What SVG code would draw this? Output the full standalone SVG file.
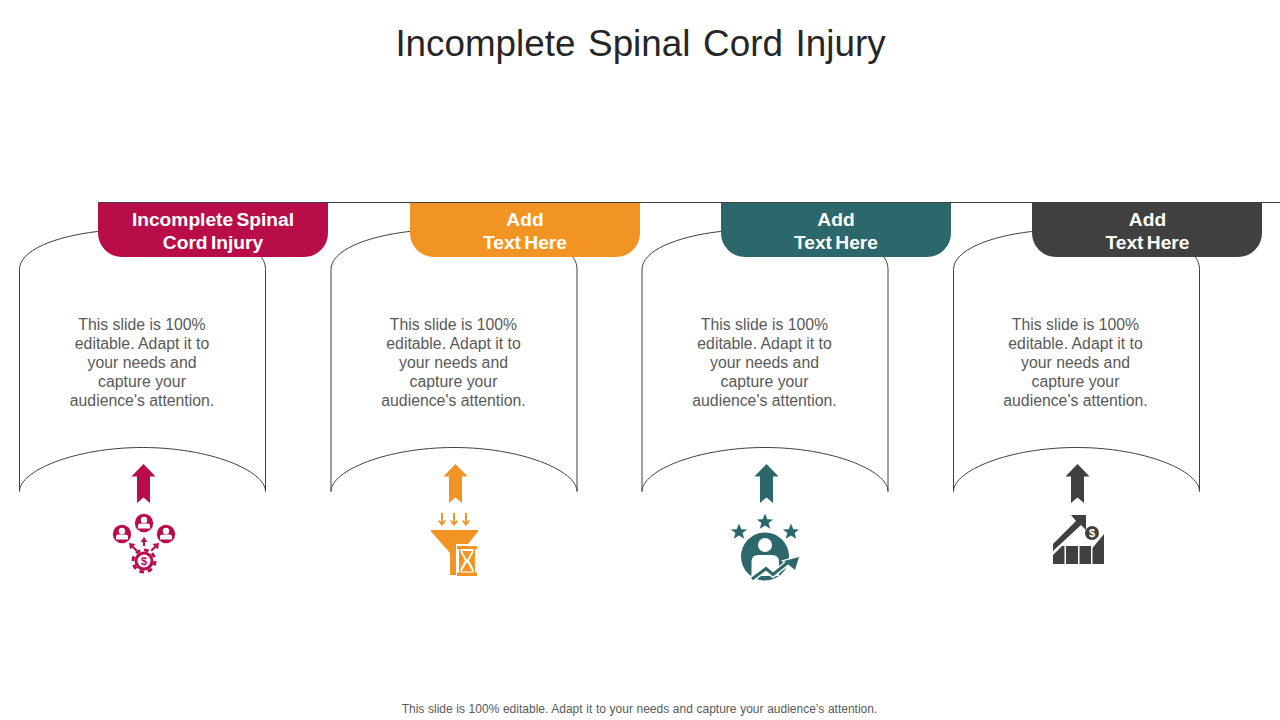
<svg xmlns="http://www.w3.org/2000/svg" width="1280" height="720" viewBox="0 0 1280 720">
<style>
text{font-family:"Liberation Sans",Arial,sans-serif;text-anchor:middle}
.title{font-size:36.800px;fill:#262626;word-spacing:2.500px}
.tab{font-size:19.200px;font-weight:bold;fill:#fff;word-spacing:-2px}
.body{font-size:15.800px;fill:#595959}
.foot{font-size:12px;fill:#595959;word-spacing:.3px}
.line{fill:none;stroke:#404040;stroke-width:1}
.w{fill:#fff}
</style>
<defs>
<path id="panel" class="line" d="M0 289V67C0 48 35 34 78 29L220 40C235 46 246 54 246 67V289C246 268 190 245 123 245C56 245 0 268 0 289"/>
<path id="up" d="M12 0L24 12.500H18.500V39L12 33.500L5.500 39V12.500H0Z"/>
<g id="person"><circle r="9.200"/><circle class="w" cy="-3" r="3.200"/><path class="w" d="M-6 5.500V2.500Q-6 .5-3 .5H3Q6 .5 6 2.500V5.500Z"/></g>
<path id="star" d="M0-8.500L2.300-2.700L8.200-2.600L3.600 1.100L5.200 6.800L0 3.500L-5.200 6.800L-3.600 1.100L-8.200-2.600L-2.300-2.700Z"/>
<path id="dn" d="M-1-7H1V2L3 0L4 1L0 6L-4 1L-3 0L-1 2Z"/>
</defs>
<text class="title" x="640.500" y="56">Incomplete Spinal Cord Injury</text>
<g id="connectors"><path class="line" d="M98 202.500H1280"/></g>
<g id="panels">
<use href="#panel" x="19.500" y="202.500"/>
<use href="#panel" x="331" y="202.500"/>
<use href="#panel" x="642" y="202.500"/>
<use href="#panel" x="953.500" y="202.500"/>
</g>
<g id="node1">
<path fill="#b80d48" d="M98 203H328V233A24 24 0 0 1 304 257H122A24 24 0 0 1 98 233Z"/>
<text class="tab" x="213" y="225.500">Incomplete Spinal</text><text class="tab" x="213" y="248.500">Cord Injury</text>
<text class="body"><tspan x="142" y="330">This slide is 100%</tspan><tspan x="142" y="349">editable. Adapt it to</tspan><tspan x="142" y="368">your needs and</tspan><tspan x="142" y="387">capture your</tspan><tspan x="142" y="406">audience's attention.</tspan></text>
<g fill="#b80d48">
<use href="#up" x="131.500" y="464"/>
<use href="#person" x="122" y="534"/><use href="#person" x="144" y="523"/><use href="#person" x="166" y="534"/>
<path d="M144 537l3.500 5h-2.500v4h-2v-4h-2.500zM129 543l6.500 1-2 2 4 4-1.500 1.500-4-4-2 2zM159 543l-1 6.500-2-2-4 4-1.500-1.500 4-4-2-2z"/>
<circle cx="144" cy="561" r="9.500"/>
<circle cx="144" cy="561" r="11" fill="none" stroke="#b80d48" stroke-width="3" stroke-dasharray="4.600 4"/>
<circle class="w" cx="144" cy="561" r="6.500"/>
</g>
<text x="144" y="565" font-size="11" font-weight="bold" fill="#b80d48">$</text>
</g>
<g id="node2">
<path fill="#f29423" d="M410 203H640V233A24 24 0 0 1 616 257H434A24 24 0 0 1 410 233Z"/>
<text class="tab" x="525" y="225.500">Add</text><text class="tab" x="525" y="248.500">Text Here</text>
<text class="body"><tspan x="453.500" y="330">This slide is 100%</tspan><tspan x="453.500" y="349">editable. Adapt it to</tspan><tspan x="453.500" y="368">your needs and</tspan><tspan x="453.500" y="387">capture your</tspan><tspan x="453.500" y="406">audience's attention.</tspan></text>
<g fill="#f29423">
<use href="#up" x="443.500" y="464"/>
<use href="#dn" x="442" y="520"/><use href="#dn" x="454" y="520"/><use href="#dn" x="466" y="520"/>
<path d="M431 530H478V531.500L468 544H456V575H450V553L431 531.500Z"/>
<path d="M457 546H477V549H475V572.500H477V576H457V572.500H459V549H457Z"/>
<path class="w" d="M460.500 549H473.500V552L469 560.500L473.500 569V572.500H460.500V569L465 560.500L460.500 552Z"/>
<path d="M462 551H472L467 560ZM467 562L472.500 571.500H461.500Z"/>
</g>
</g>
<g id="node3">
<path fill="#2b676b" d="M721 203H951V233A24 24 0 0 1 927 257H745A24 24 0 0 1 721 233Z"/>
<text class="tab" x="836" y="225.500">Add</text><text class="tab" x="836" y="248.500">Text Here</text>
<text class="body"><tspan x="764.500" y="330">This slide is 100%</tspan><tspan x="764.500" y="349">editable. Adapt it to</tspan><tspan x="764.500" y="368">your needs and</tspan><tspan x="764.500" y="387">capture your</tspan><tspan x="764.500" y="406">audience's attention.</tspan></text>
<g fill="#2b676b">
<use href="#up" x="754.500" y="464"/>
<use href="#star" x="765" y="522"/><use href="#star" x="739" y="532"/><use href="#star" x="791" y="532"/>
<circle cx="765" cy="556.500" r="24"/>
<circle class="w" cx="765" cy="545" r="7"/>
<path class="w" d="M751.500 576V562Q751.500 555 758 555H772Q779 555 779 562V576Z"/>
<path d="M752 579L766 568.500L773 574.500L789 561.500" fill="none" stroke="#fff" stroke-width="6"/>
<path class="w" d="M801 555L796.500 572L781 560.500Z"/>
<path d="M752 579L766 568.500L773 574.500L789 561.500" fill="none" stroke="#2b676b" stroke-width="3"/>
<path d="M799 557L795 570L784 561Z"/>
</g>
</g>
<g id="node4">
<path fill="#404040" d="M1032 203H1262V233A24 24 0 0 1 1238 257H1056A24 24 0 0 1 1032 233Z"/>
<text class="tab" x="1147.500" y="225.500">Add</text><text class="tab" x="1147.500" y="248.500">Text Here</text>
<text class="body"><tspan x="1075.500" y="330">This slide is 100%</tspan><tspan x="1075.500" y="349">editable. Adapt it to</tspan><tspan x="1075.500" y="368">your needs and</tspan><tspan x="1075.500" y="387">capture your</tspan><tspan x="1075.500" y="406">audience's attention.</tspan></text>
<g fill="#404040">
<use href="#up" x="1065.500" y="464"/>
<path d="M1053 544L1076 521L1071 515H1086V530L1081 525L1053 551Z"/>
<circle cx="1092" cy="533" r="7"/>
<path d="M1053 555L1062 546H1064.500V564H1053ZM1066 546H1078V564H1066ZM1079.500 546H1091V564H1079.500ZM1092.500 548L1104 534V564H1092.500Z"/>
</g>
<text x="1092" y="537" font-size="11" font-weight="bold" fill="#fff">$</text>
</g>
<text class="foot" x="639.500" y="713">This slide is 100% editable. Adapt it to your needs and capture your audience’s attention.</text>
</svg>
